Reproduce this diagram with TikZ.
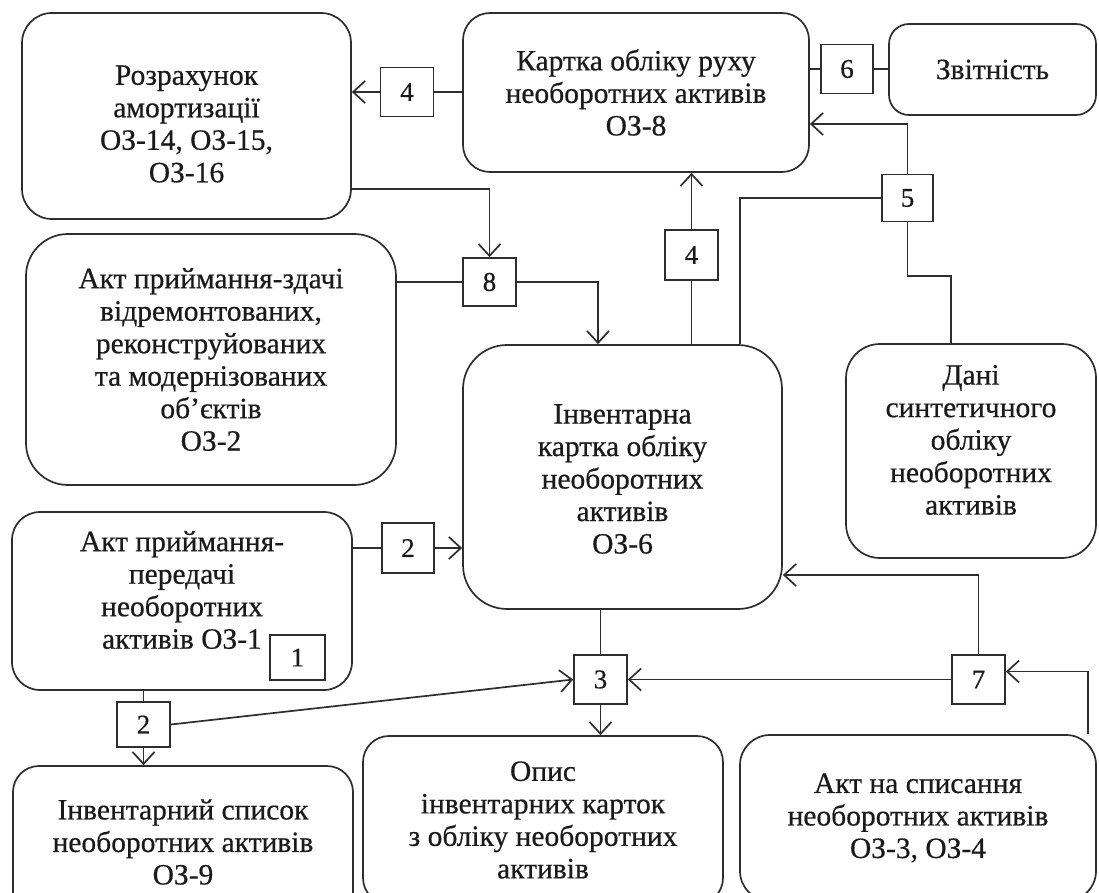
\documentclass[tikz,border=0pt]{standalone}
\usepackage{fontspec}
\setmainfont{Liberation Serif}
\newfontfamily\cardfont{Liberation Serif}[FakeBold=0.5]
\usetikzlibrary{arrows.meta,calc}
\definecolor{ink}{HTML}{1A1A1A}
\definecolor{edge}{HTML}{2E2E2E}
\begin{document}
\begin{tikzpicture}[x=1pt,y=-1pt,
  line width=1.7pt, draw=edge, text=ink,
  card/.style={draw, rounded corners=#1, inner sep=0pt},
  card/.default=28pt,
  txt/.style={inner sep=0pt, align=center, font=\cardfont\fontsize{29.5}{32.5}\selectfont},
  num/.style={draw, inner sep=0pt, minimum width=53pt, minimum height=49pt,
    font=\cardfont\fontsize{27}{30}\selectfont},
  link/.style={-{Straight Barb[length=12pt,width=22pt]}},
]
\useasboundingbox (0,0) rectangle (1099,893);
\fill[white] (0,0) rectangle (1099,893);
\clip (0,0) rectangle (1099,893);

% document frames
\node[card=30pt, minimum width=329pt, minimum height=206pt] (rozr) at (186.5,116) {};
\node[card=27pt, minimum width=346pt, minimum height=159pt] (kartka) at (636,92.5) {};
\node[card=20pt, minimum width=207pt, minimum height=91pt] (zvit) at (992.5,69.5) {};
\node[card=42pt, minimum width=370pt, minimum height=251pt] (zdachi) at (211,359.5) {};
\node[card=44pt, minimum width=319pt, minimum height=264pt] (inv) at (622.5,477) {};
\node[card=34pt, minimum width=250pt, minimum height=214pt] (dani) at (971,451) {};
\node[card=28pt, minimum width=340pt, minimum height=178pt] (akt1) at (182,601) {};
\node[card=26pt, minimum width=340pt, minimum height=152pt] (spysok) at (183,842) {};
\node[card=26pt, minimum width=360pt, minimum height=168pt] (opys) at (543,820) {};
\node[card=30pt, minimum width=356pt, minimum height=166pt] (aktsp) at (918,818) {};

% document titles
\node[txt] (rozr-t) at ($(rozr)+(0,8)$) {Розрахунок\\амортизації\\ОЗ-14, ОЗ-15,\\ОЗ-16};
\node[txt] (kartka-t) at (kartka) {Картка обліку руху\\необоротних активів\\ОЗ-8};
\node[txt] (zvit-t) at (zvit) {Звітність};
\node[txt] (zdachi-t) at (zdachi)
  {Акт приймання-здачі\\відремонтованих,\\реконструйованих\\та модернізованих\\об’єктів\\ОЗ-2};
\node[txt] (inv-t) at ($(inv)+(0,2)$) {Інвентарна\\картка обліку\\необоротних\\активів\\ОЗ-6};
\node[txt] (dani-t) at ($(dani)+(0,-11)$) {Дані\\синтетичного\\обліку\\необоротних\\активів};
\node[txt] (akt1-t) at ($(akt1)+(0,-11)$) {Акт приймання-\\передачі\\необоротних\\активів ОЗ-1};
\node[txt] (spysok-t) at (spysok) {Інвентарний список\\необоротних активів\\ОЗ-9};
\node[txt] (opys-t) at (opys) {Опис\\інвентарних карток\\з обліку необоротних\\активів};
\node[txt] (aktsp-t) at (aktsp) {Акт на списання\\необоротних активів\\ОЗ-3, ОЗ-4};

% numbered marks
\node[num] (b4a) at (407,92) {4};
\node[num, minimum height=49pt, minimum width=52pt] (b6) at (847,69) {6};
\node[num, minimum height=47pt, minimum width=51pt] (b5) at (907.5,198) {5};
\node[num, minimum height=50pt] (b4b) at (691.5,255) {4};
\node[num, minimum height=48pt] (b8) at (489.5,282) {8};
\node[num, minimum height=50pt, minimum width=52pt] (b2a) at (408,548) {2};
\node[num, minimum height=45pt, minimum width=55pt] (b1) at (297.5,657.5) {1};
\node[num, minimum height=45pt] (b2b) at (143.5,724.5) {2};
\node[num] (b3) at (600.5,679.5) {3};
\node[num] (b7) at (978.5,679.5) {7};

% connectors
\draw (b4a.east) -- (b4a.east -| kartka.west);
\draw[link] (b4a.west) -- (b4a.west -| rozr.east);

\draw (b6.west) -- (b6.west -| kartka.east);
\draw (b6.east) -- (b6.east -| zvit.west);

\draw[link] (b4b.north) -- (b4b.north |- kartka.south);
\draw (b4b.south) -- (b4b.south |- inv.north);

\draw (b5.west) -| ($(inv.north)+(117.5,0)$);
\draw[link] (b5.north) |- ($(kartka.east)+(0,31.5)$);
\draw (b5.south) |- ($(dani.north)+(-20,-67)$) -- ($(dani.north)+(-20,0)$);

\draw[link] ($(rozr.east)+(0,73)$) -| (b8.north);
\draw (b8.west) -- (b8.west -| zdachi.east);
\draw[link] (b8.east) -| ($(inv.north)+(-24.5,0)$);

\draw (b2a.west) -- (b2a.west -| akt1.east);
\draw[link] (b2a.east) -- (b2a.east -| inv.west);

\draw (b2b.north) -- (b2b.north |- akt1.south);
\draw[link] (b2b.south) -- (b2b.south |- spysok.north);
\draw[link] (b2b.east) -- (b3.west);

\draw (b3.north) -- (b3.north |- inv.south);
\draw[link] (b3.south) -- (b3.south |- opys.north);
\draw[link] (b7.west) -- (b3.east);
\draw[link] (b7.north) |- ($(inv.east)+(0,98)$);
\draw[link] ($(aktsp.north)+(170,0)$) |- ($(b7.east)+(0,-8)$);
\end{tikzpicture}
\end{document}
